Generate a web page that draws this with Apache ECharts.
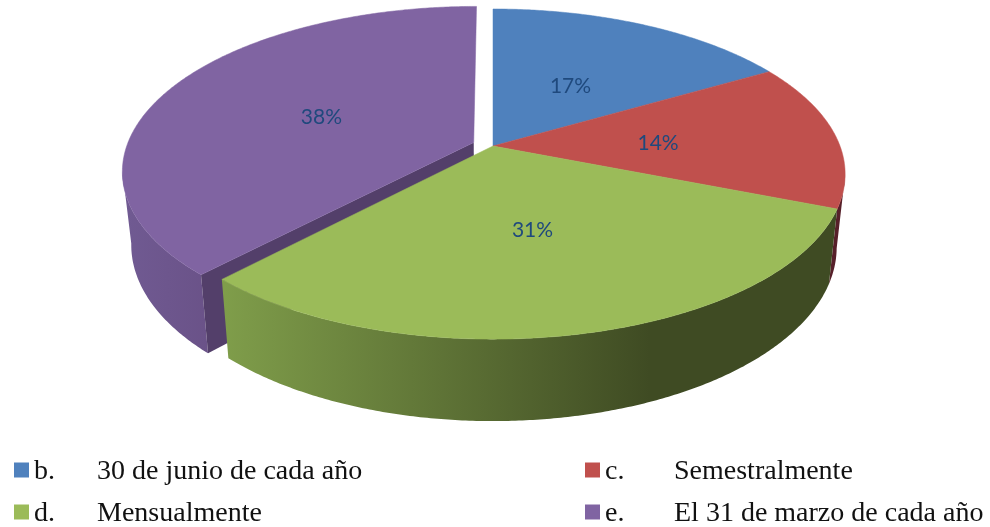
<!DOCTYPE html>
<html><head><meta charset="utf-8">
<style>html,body{margin:0;padding:0;background:#fff}#c{width:990px;height:527px}</style>
<script src="https://cdn.jsdelivr.net/npm/echarts@6/dist/echarts.min.js"></script></head>
<body><div id="c"></div>
<script>
const categories = ['b. 30 de junio de cada año','c. Semestralmente','d. Mensualmente','e. El 31 de marzo de cada año'];
const values = [16.6, 14.4, 31, 38];
const explode = [0, 0, 0, 0.06];
const colors = ['#4f81bd','#c0504d','#9bbb59','#8064a2'];
// perspective pie model
const CX = 493, CY = 146, RX = 347, RY = 160.3, P = 0.17, Q = 0.976;
const total = values.reduce((a,b)=>a+b,0);
const R = Math.PI/180;
function proj(X, Y){
  const s = 1/(1 + P*Y);
  return [CX + RX*X*s, CY - RY*Y*s];
}
function down(pt){
  const d = 75 + (pt[1]-208)*0.053;
  return [CX + (pt[0]-CX)*Q, pt[1] + d];
}
function sliceGeom(i){
  let a0 = 0;
  for(let k=0;k<i;k++) a0 += values[k]/total*360;
  const a1 = a0 + values[i]/total*360, mid = (a0+a1)/2;
  const e = explode[i];
  const ox = e*Math.sin(mid*R), oy = e*Math.cos(mid*R);
  const arc = [], front = [];
  const n = Math.ceil(a1-a0)*2;
  for(let j=0;j<=n;j++){
    const t = (a0+(a1-a0)*j/n)*R;
    const p = proj(ox+Math.sin(t), oy+Math.cos(t));
    arc.push(p);
    if(Math.cos(t) <= -P) front.push(p);
  }
  return {a0,a1,mid,ox,oy,arc,front,apex:proj(ox,oy)};
}
const wallFill = [
  ()=>'#3a5c87',
  ()=>'#57202a',
  ()=>new echarts.graphic.LinearGradient(225,0,650,0,[
    {offset:0,color:'#7f9d4a'},{offset:1,color:'#3f4b23'}],true),
  ()=>new echarts.graphic.LinearGradient(125,0,210,0,[
    {offset:0,color:'#705a92'},{offset:1,color:'#6a5288'}],true)
];
const wallZ = [0,4,5,1];
function renderSlice(i){
  return function(){
    const g = sliceGeom(i);
    const children = [];
    if(g.front.length > 1){
      children.push({type:'polygon',z2:wallZ[i],silent:true,
        shape:{points:g.front.concat(g.front.map(down).reverse())},
        style:{fill:wallFill[i]()}});
    }
    if(explode[i]>0){
      const end = g.arc[0];
      children.push({type:'polygon',z2:2,
        shape:{points:[g.apex,end,down(end),down(g.apex)]},
        style:{fill:'#533f6a'}});
    }
    children.push({type:'polygon',z2:6,
      shape:{points:[g.apex].concat(g.arc)},
      style:{fill:colors[i],stroke:colors[i],lineWidth:.5}});
    const r = .48 + explode[i]/6, lp = proj(g.ox+r*Math.sin(g.mid*R), g.oy+r*Math.cos(g.mid*R));
    children.push({type:'text',z2:7,
      style:{x:lp[0],y:lp[1]+3,text:Math.round(values[i]/total*100)+'%',
        fill:'#1f497d',font:'21px Lato',align:'center',verticalAlign:'middle'}});
    return {type:'group',children};
  };
}
function legendFor(left, top, letterW, name){
  return {
    icon:'rect',itemWidth:15,itemHeight:15,padding:0,
    selectedMode:false,left,top,data:[name],
    formatter:n=>{const k=n.indexOf(' ');return '{a|'+n.slice(0,k)+'}{b|'+n.slice(k+1)+'}';},
    textStyle:{rich:{
      a:{width:letterW,fontFamily:'Liberation Serif',fontSize:28,color:'#111',lineHeight:33,padding:[4,0,0,0]},
      b:{fontFamily:'Liberation Serif',fontSize:28,color:'#111',lineHeight:33,padding:[4,0,0,0]}
    }}
  };
}
const chart = echarts.init(document.getElementById('c'),null,{renderer:'canvas'});
chart.setOption({
  animation:false,
  backgroundColor:'#fff',
  legend:[
    legendFor(14,454,63,categories[0]),
    legendFor(14,496,63,categories[2]),
    legendFor(585,454,69,categories[1]),
    legendFor(585,496,69,categories[3])
  ],
  series:categories.map((name,i)=>({
    type:'custom',name,coordinateSystem:'none',
    itemStyle:{color:colors[i]},
    data:[[values[i]]],
    renderItem:renderSlice(i)
  }))
});
</script></body></html>
